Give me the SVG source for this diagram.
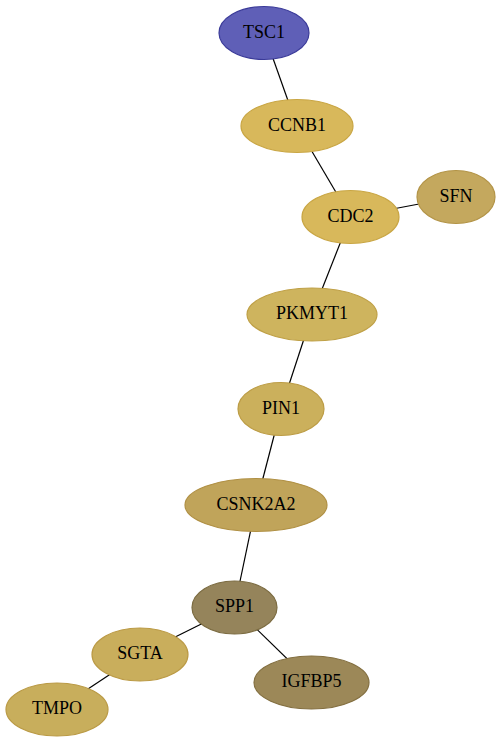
<svg xmlns="http://www.w3.org/2000/svg" width="501" height="743" viewBox="0 0 501 743">
<style>
.edge{stroke:#000;stroke-width:1.2;fill:none}
ellipse{stroke-width:1.2}
text{font-family:"Liberation Serif","Times New Roman",serif;font-size:18px;text-anchor:middle;fill:#000}
</style>
<rect width="501" height="743" fill="#fff"/>
<g id="edges">
<line class="edge" x1="264" y1="33" x2="297" y2="126"/>
<line class="edge" x1="297" y1="126" x2="350.5" y2="217"/>
<line class="edge" x1="350.5" y1="217" x2="456" y2="197"/>
<line class="edge" x1="350.5" y1="217" x2="312" y2="314.5"/>
<line class="edge" x1="312" y1="314.5" x2="281" y2="409"/>
<line class="edge" x1="281" y1="409" x2="256" y2="505"/>
<line class="edge" x1="256" y1="505" x2="234.5" y2="607.5"/>
<line class="edge" x1="234.5" y1="607.5" x2="140" y2="654.5"/>
<line class="edge" x1="234.5" y1="607.5" x2="311.5" y2="682.5"/>
<line class="edge" x1="140" y1="654.5" x2="57" y2="709.5"/>
</g>
<g id="TSC1"><ellipse cx="264" cy="33" rx="45" ry="26.5" fill="#5f5fb7" stroke="#3b3b99"/><text x="264" y="37.5">TSC1</text></g>
<g id="CCNB1"><ellipse cx="297" cy="126" rx="56" ry="26.5" fill="#d8b85b" stroke="#c9a644"/><text x="297" y="130.5">CCNB1</text></g>
<g id="CDC2"><ellipse cx="350.5" cy="217" rx="48.5" ry="26.5" fill="#d8b85b" stroke="#c9a644"/><text x="350.5" y="221.5">CDC2</text></g>
<g id="SFN"><ellipse cx="456" cy="197" rx="39" ry="26.5" fill="#c4a85e" stroke="#b39447"/><text x="456" y="201.5">SFN</text></g>
<g id="PKMYT1"><ellipse cx="312" cy="314.5" rx="65" ry="26.5" fill="#ceb45e" stroke="#bfa046"/><text x="312" y="319">PKMYT1</text></g>
<g id="PIN1"><ellipse cx="281" cy="409" rx="43" ry="26.5" fill="#cbb05c" stroke="#bc9c45"/><text x="281" y="413.5">PIN1</text></g>
<g id="CSNK2A2"><ellipse cx="256" cy="505" rx="71" ry="26.5" fill="#c0a45a" stroke="#b09044"/><text x="256" y="509.5">CSNK2A2</text></g>
<g id="SPP1"><ellipse cx="234.5" cy="607.5" rx="42.5" ry="26.5" fill="#95845b" stroke="#7c6c42"/><text x="234.5" y="612">SPP1</text></g>
<g id="SGTA"><ellipse cx="140" cy="654.5" rx="48" ry="26.5" fill="#c9ae5c" stroke="#bb9a45"/><text x="140" y="659">SGTA</text></g>
<g id="IGFBP5"><ellipse cx="311.5" cy="682.5" rx="57.5" ry="26.5" fill="#9c8858" stroke="#836f40"/><text x="311.5" y="687">IGFBP5</text></g>
<g id="TMPO"><ellipse cx="57" cy="709.5" rx="51" ry="26.5" fill="#c8ae5c" stroke="#ba9a45"/><text x="57" y="714">TMPO</text></g>
</svg>
